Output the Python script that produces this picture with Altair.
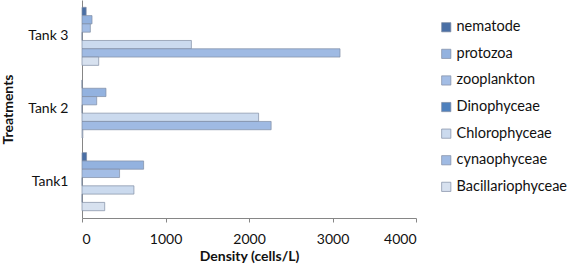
import altair as alt
import pandas as pd

tanks = ["Tank 3", "Tank 2", "Tank1"]
series = ["nematode", "protozoa", "zooplankton", "Dinophyceae",
          "Chlorophyceae", "cynaophyceae", "Bacillariophyceae"]
tank3 = [50, 120, 100, 0, 1310, 3090, 200]
tank2 = [0, 287, 176, 0, 2115, 2265, 10]
tank1 = [55, 738, 450, 0, 622, 0, 272]
colors = ["#4A6FA5", "#93B2DF", "#A3BDE5", "#4F81BD",
          "#CBDAEE", "#9FBAE3", "#D7E1EF"]

rows = []
for t, vals in zip(tanks, [tank3, tank2, tank1]):
    for s, v in zip(series, vals):
        rows.append({"tank": t, "series": s, "density": v})
df = pd.DataFrame(rows)

FONT = "Lato"

chart = alt.Chart(df).mark_bar(
    stroke="#7F8DA3", strokeWidth=0.7
).encode(
    x=alt.X("density:Q",
            scale=alt.Scale(domain=[0, 4000], nice=False),
            axis=alt.Axis(values=[0, 1000, 2000, 3000, 4000], grid=False,
                          format="d",
                          title="Density (cells/L)", tickSize=4,
                          labelPadding=10, titlePadding=3,
                          domainColor="#868686", tickColor="#868686")),
    y=alt.Y("tank:N", sort=tanks,
            scale=alt.Scale(paddingInner=0, paddingOuter=0),
            axis=alt.Axis(title="Treatments", ticks=False, labelPadding=14,
                          titlePadding=12, domainColor="#868686")),
    yOffset=alt.YOffset("series:N", sort=series,
                        scale=alt.Scale(paddingInner=0, paddingOuter=0.88)),
    color=alt.Color("series:N",
                    scale=alt.Scale(domain=series, range=colors),
                    legend=alt.Legend(title=None, orient="none",
                                      legendX=357, legendY=20,
                                      symbolType="square", symbolSize=85,
                                      symbolStrokeColor="#7F8DA3",
                                      symbolStrokeWidth=0.7,
                                      rowPadding=11.6, labelOffset=3)),
).properties(
    width=334, height=218,
    autosize=alt.AutoSizeParams(type="none"),
    padding={"left": 82, "top": 0, "right": 152, "bottom": 48},
).configure_view(
    stroke=None
).configure_axis(
    labelFont=FONT, titleFont=FONT, labelFontSize=14, titleFontSize=14,
    labelColor="#111111", titleColor="#111111", titleFontWeight="bold"
).configure_legend(
    labelFont=FONT, labelFontSize=14.5, labelColor="#111111", labelLimit=220
)

chart.save("out.html", embed_options={"renderer": "svg", "actions": False})
